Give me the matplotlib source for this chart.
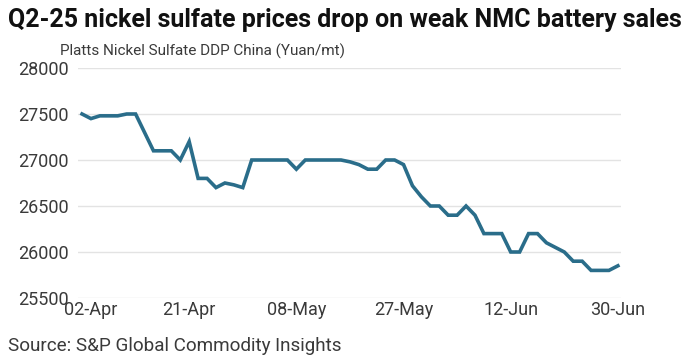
import matplotlib
matplotlib.use('Agg')
import matplotlib.pyplot as plt
import matplotlib.transforms as mtransforms
import numpy as np

# Data (Platts Nickel Sulfate DDP China, Yuan/mt), one value per assessment day
prices = [27500, 27450, 27480, 27480, 27480, 27500, 27500, 27300, 27100, 27100,
          27100, 27000, 27200, 26800, 26800, 26700, 26750, 26730, 26700, 27000,
          27000, 27000, 27000, 27000, 26900, 27000, 27000, 27000, 27000, 27000,
          26980, 26950, 26900, 26900, 27000, 27000, 26950, 26720, 26600, 26500,
          26500, 26400, 26400, 26500, 26400, 26200, 26200, 26200, 26000, 26000,
          26200, 26200, 26100, 26050, 26000, 25900, 25900, 25800, 25800, 25800,
          25850]
tick_idx = [0, 12, 24, 36, 48, 60]
tick_labels = ['02-Apr', '21-Apr', '08-May', '27-May', '12-Jun', '30-Jun']
y_ticks = [25500, 26000, 26500, 27000, 27500, 28000]

title = 'Q2-25 nickel sulfate prices drop on weak NMC battery sales'
subtitle = 'Platts Nickel Sulfate DDP China (Yuan/mt)'
source = 'Source: S&P Global Commodity Insights'

plt.rcParams['font.family'] = ['Roboto', 'DejaVu Sans']
txt_col = '#3a3a3a'

fig = plt.figure(figsize=(6.84, 3.62), dpi=100)
ax = fig.add_axes([78 / 684, 1 - 298 / 362, (621 - 78) / 684, (298 - 68) / 362])

x = np.arange(len(prices))
ax.plot(x, prices, color='#2a6d8a', linewidth=2.6, solid_joinstyle='miter', zorder=3)

ax.set_xlim(-0.45, len(prices) - 1 + 0.35)
ax.set_ylim(25500, 28000)
ax.set_yticks(y_ticks)
ax.set_yticklabels([str(v) for v in y_ticks])
ax.set_xticks(tick_idx)
ax.set_xticklabels(tick_labels)

ax.grid(axis='y', color='#e3e3e3', linewidth=1)
ax.set_axisbelow(True)
for s in ax.spines.values():
    s.set_visible(False)
ax.tick_params(length=0, labelsize=13, labelcolor=txt_col)
ax.tick_params(axis='y', pad=7)
ax.tick_params(axis='x', pad=2)

# nudge first date label to the right like the original
first = ax.get_xticklabels()[0]
first.set_transform(first.get_transform() + mtransforms.ScaledTranslation(9 / 100, 0, fig.dpi_scale_trans))

fig.text(8 / 684, 1 - 20 / 362, title, fontsize=18, fontweight='bold',
         color='#111111', va='center', ha='left')
fig.text(60 / 684, 1 - 51 / 362, subtitle, fontsize=11, color=txt_col,
         va='center', ha='left')
fig.text(8 / 684, 1 - 346 / 362, source, fontsize=13.6, color=txt_col,
         va='center', ha='left')

fig.savefig('out.png', dpi=100)
